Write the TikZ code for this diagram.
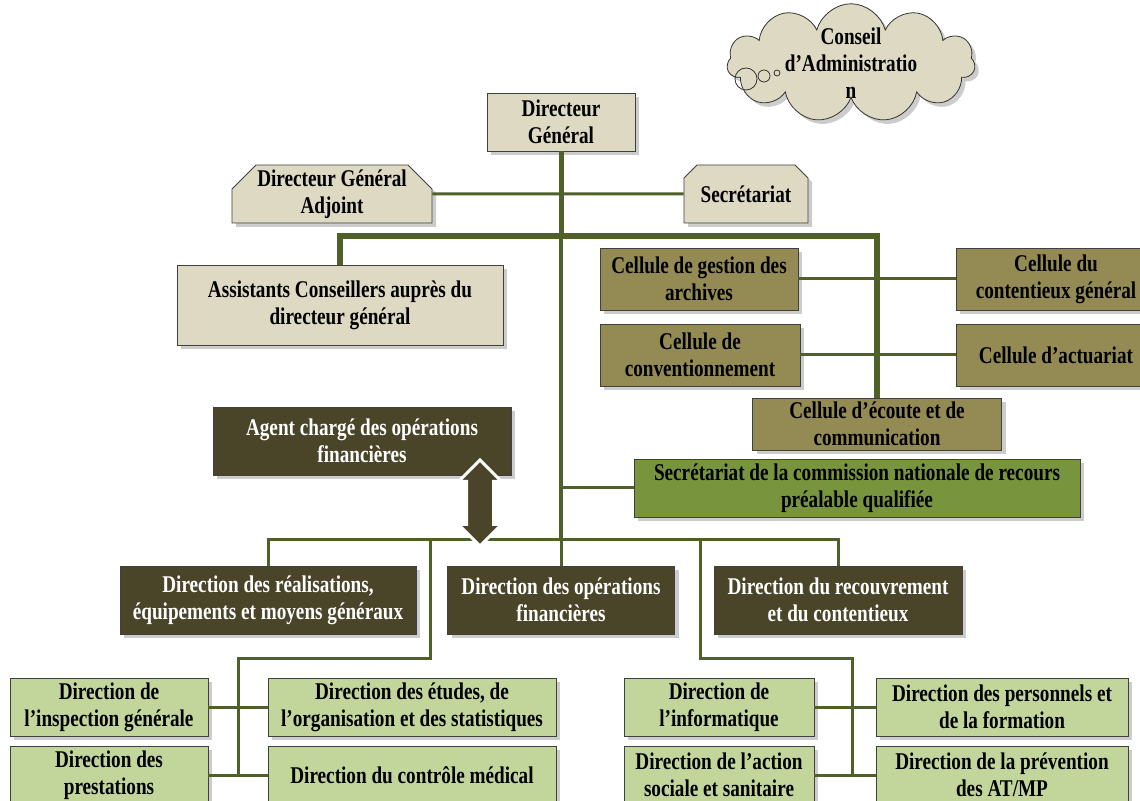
\documentclass[tikz,border=0pt]{standalone}
\usepackage{fontspec}
\setmainfont{Liberation Serif}[FakeStretch=0.8]
\usepackage{tikz}
\usetikzlibrary{shapes.misc,shapes.symbols,shapes.arrows,shadows}
\definecolor{beigeclair}{rgb}{0.87, 0.85, 0.76}
\definecolor{olive}{rgb}{0.58, 0.54, 0.33}
\definecolor{brunfonce}{rgb}{0.29, 0.27, 0.16}
\definecolor{vertolive}{rgb}{0.47, 0.58, 0.24}
\definecolor{vertpale}{rgb}{0.76, 0.84, 0.61}
\definecolor{lignevert}{rgb}{0.31, 0.38, 0.16}
\tikzset{
  boite/.style={
    rectangle,
    draw=black!75,
    align=center,
    inner sep=2pt,
    font=\bfseries\fontsize{12}{13.5}\selectfont,
    drop shadow={shadow xshift=2pt, shadow yshift=-2pt, opacity=.4}
  },
  beige/.style={boite, fill=beigeclair},
  coin/.style={
    beige,
    chamfered rectangle,
    chamfered rectangle corners={north west, north east},
    chamfered rectangle sep=6pt,
    inner ysep=-3.75pt,
    minimum height=29pt
  },
  cellule/.style={boite, fill=olive},
  sombre/.style={boite, fill=brunfonce, text=white},
  vert/.style={boite, fill=vertolive},
  pale/.style={boite, fill=vertpale},
  nuage/.style={
    cloud,
    cloud puffs=11,
    aspect=2.3,
    draw=black!80,
    fill=beigeclair,
    align=center,
    inner xsep=0pt,
    inner ysep=-8pt,
    font=\bfseries\fontsize{12}{13.5}\selectfont,
    drop shadow={shadow xshift=2pt, shadow yshift=-2pt, opacity=.4}
  },
  bulle/.style={circle, draw=black!80, inner sep=0pt},
  lien/.style={draw=lignevert, line width=1.5pt},
  tronc/.style={draw=lignevert, line width=2.5pt}
}

\begin{document}
\begin{tikzpicture}[x=0.5pt,y=-0.5pt]
\useasboundingbox (0,0) rectangle (1140,801);

% sommet
\node[nuage, minimum width=124pt, minimum height=55pt] (ca) at (851,63) {Conseil\\d'Administratio\\n};
\node[bulle, minimum size=11pt] (b1) at (746,79) {};
\node[bulle, minimum size=6pt] (b2) at (764,76) {};
\node[bulle, minimum size=3pt] (b3) at (777,73) {};
\node[beige, minimum width=74pt, minimum height=29pt] (dg) at (561,122) {Directeur\\Général};
\node[coin, minimum width=100pt] (dga) at (332,194) {Directeur Général\\Adjoint};
\node[coin, minimum width=62pt] (sec) at (746,194) {Secrétariat};
\node[beige, minimum width=163pt, minimum height=40pt] (assist) at (340,305) {Assistants Conseillers auprès du\\directeur général};

% cellules
\node[cellule, minimum width=99pt, minimum height=31pt] (archives) at (699,279) {Cellule de gestion des\\archives};
\node[cellule, minimum width=100pt, minimum height=31pt] (conv) at (700,355) {Cellule de\\conventionnement};
\node[cellule, minimum width=100pt, minimum height=31pt] (contentieux) at (1056,279) {Cellule du\\contentieux général};
\node[cellule, minimum width=100pt, minimum height=31pt] (actuariat) at (1056,355) {Cellule d'actuariat};
\node[cellule, minimum width=124.5pt, minimum height=26pt] (ecoute) at (877,424) {Cellule d'écoute et de\\communication};

\node[sombre, minimum width=149pt, minimum height=34pt] (agent) at (362,441) {Agent chargé des opérations\\financières};
\node[vert, minimum width=223pt, minimum height=29pt] (commission) at (857,488) {Secrétariat de la commission nationale de recours\\préalable qualifiée};

% directions
\node[sombre, minimum width=148pt, minimum height=34pt] (realis) at (268,600) {Direction des réalisations,\\équipements et moyens généraux};
\node[sombre, minimum width=113.5pt, minimum height=34pt] (opfin) at (561,600) {Direction des opérations\\financières};
\node[sombre, minimum width=124pt, minimum height=34pt] (recouv) at (838,600) {Direction du recouvrement\\et du contentieux};

\node[pale, minimum width=99pt, minimum height=29pt] (inspect) at (109,707) {Direction de\\l'inspection générale};
\node[pale, minimum width=144pt, minimum height=29pt] (etudes) at (412,707) {Direction des études, de\\l'organisation et des statistiques};
\node[pale, minimum width=99pt, minimum height=29pt] (prest) at (109,775) {Direction des\\prestations};
\node[pale, minimum width=144pt, minimum height=29pt] (controle) at (412,775) {Direction du contrôle médical};
\node[pale, minimum width=95pt, minimum height=29pt] (info) at (719,707) {Direction de\\l'informatique};
\node[pale, minimum width=126pt, minimum height=29pt] (perso) at (1002,707) {Direction des personnels et\\de la formation};
\node[pale, minimum width=95pt, minimum height=29pt] (social) at (719,775) {Direction de l'action\\sociale et sanitaire};
\node[pale, minimum width=126pt, minimum height=29pt] (prev) at (1002,775) {Direction de la prévention\\des AT/MP};

% liaisons
\coordinate (barre) at (561,236);
\coordinate (hub) at (561,540);
\coordinate (ga) at (430,540);
\coordinate (gb) at (238,658);
\coordinate (da) at (700,540);
\coordinate (db) at (852,658);

\draw[tronc] (dg) -- (barre);
\draw[lien] (dga) -- (sec);
\draw[tronc, line width=3pt] (assist.north) -- (assist.north |- barre) -- (ecoute.north |- barre) -- (ecoute.north);
\draw[tronc, line width=2pt] (barre) -- (hub);
\draw[lien] (archives) -- (contentieux);
\draw[lien] (conv) -- (actuariat);
\draw[lien] (commission.west -| hub) -- (commission);
\draw[lien] (realis.north) -- (realis.north |- hub) -- (recouv.north |- hub) -- (recouv.north);
\draw[lien] (hub) -- (opfin);
\draw[lien] (ga) |- (gb) -- (gb |- prest.east);
\draw[lien] (inspect) -- (etudes);
\draw[lien] (prest) -- (controle);
\draw[lien] (da) |- (db) -- (db |- social.east);
\draw[lien] (info) -- (perso);
\draw[lien] (social) -- (prev);

\node[double arrow, rotate=90, draw=white, line width=1.5pt, fill=brunfonce, minimum height=43pt, minimum width=20pt, double arrow head extend=4pt, inner xsep=0pt, inner ysep=6pt] (fleche) at (480,503) {};
\end{tikzpicture}
\end{document}
